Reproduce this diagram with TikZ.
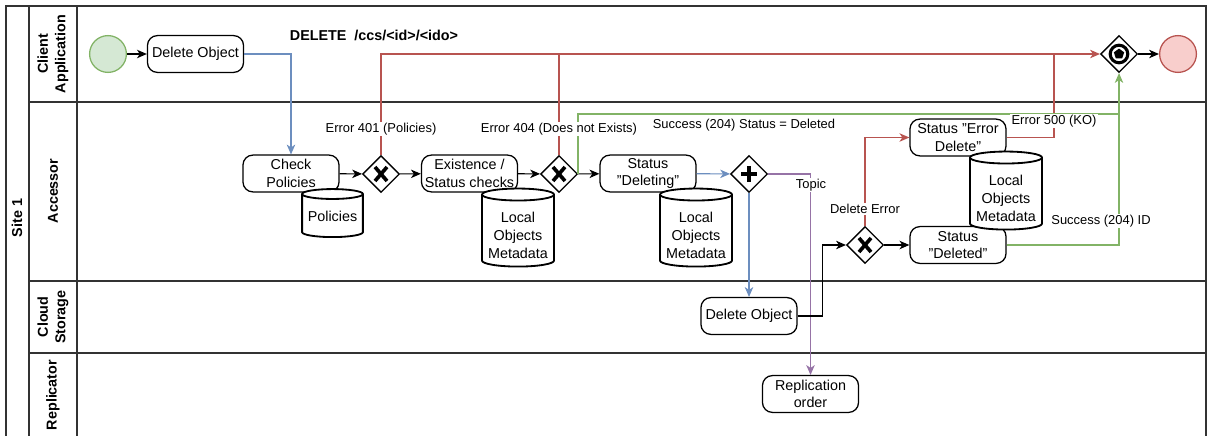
\documentclass[tikz,border=0pt]{standalone}
\usepackage{fontspec}
\setmainfont{Liberation Sans}
\usepackage{tikz}
\usetikzlibrary{arrows.meta,shapes,calc}
\usetikzlibrary{positioning}
\newcommand{\boxfont}{\fontsize{10.2}{12.5}\selectfont}
\newcommand{\labfont}{\fontsize{9.2}{11}\selectfont}
\definecolor{bpblue}{HTML}{6C8EBF}
\definecolor{bpred}{HTML}{B85450}
\definecolor{bpgreen}{HTML}{82B366}
\definecolor{bppurple}{HTML}{9673A6}
\definecolor{okfill}{HTML}{D5E8D4}
\definecolor{kofill}{HTML}{F8CECC}
\definecolor{lanegray}{HTML}{333333}
\tikzstyle{lane}=[draw=lanegray,line width=0.9pt]
\tikzstyle{lanehead}=[rotate=90,align=center,font=\bfseries\boxfont]
\tikzstyle{task}=[draw=black,rounded corners=7pt,line width=0.9pt,fill=white,
                align=center,minimum width=2.4cm,minimum height=0.92cm,inner sep=1pt,font=\boxfont]
\tikzstyle{store}=[draw=black,cylinder,shape border rotate=90,aspect=0.2,line width=1.3pt,
                fill=white,align=center,inner sep=0pt,font=\boxfont]
\tikzstyle{gate}=[draw=black,diamond,line width=0.9pt,fill=white,minimum width=0.92cm,
                minimum height=0.92cm,inner sep=0pt]
\tikzstyle{evt}=[circle,minimum size=0.92cm,inner sep=0pt,line width=0.9pt]
\tikzstyle{flow}=[->,>={Stealth[length=7pt,width=6pt,inset=2pt]},line width=0.8pt]
\tikzstyle{elabel}=[fill=white,inner sep=1pt,font=\labfont]

\begin{document}
\begin{tikzpicture}[x=0.025cm,y=-0.025cm]
\useasboundingbox (0,0) rectangle (1208,435);
% pool and lanes
\draw[lane] (6,440) -- (6,6) -- (1206,6) -- (1206,440);
\draw[lane] (29,6) -- (29,440);
\draw[lane] (77,6) -- (77,440);
\foreach \y in {102,281,353}
\draw[lane] (29,\y) -- (1206,\y);
\node[lanehead] (hsite) at (17,218) {Site 1};
\node[lanehead] (hclient) at (53,54) {Client\\Application};
\node[lanehead] (hacc) at (53,191) {Accessor};
\node[lanehead] (hcloud) at (53,317) {Cloud\\Storage};
\node[lanehead] (hrep) at (53,395) {Replicator};

% events
\node[evt,draw=bpgreen,fill=okfill] (start) at (108,54) {};
\node[evt,draw=bpred,fill=kofill] (stop) at (1178,54) {};
\node[font=\bfseries\boxfont] (req) at (374,35) {DELETE\ \ /ccs/<id>/<ido>};

% tasks
\node[task] (cdel) at (195.5,54) {Delete Object};
\node[task] (chk) at (291,173.5) {Check\\Policies};
\node[task] (exi) at (469.5,173.5) {Existence /\\Status checks};
\node[task] (sdl) at (648,173.5) {Status\\"Deleting"};
\node[task] (sdo) at (749,316) {Delete Object};
\node[task] (rep) at (810.5,394) {Replication\\order};
\node[task] (serr) at (958,137.5) {Status "Error\\Delete"};
\node[task] (sdeld) at (958,245) {Status\\"Deleted"};

% gateways
\node[gate] (gx1) at (381,174) {};
\node[gate] (gx2) at (559,174) {};
\node[gate] (par) at (749,174) {};
\node[gate] (gx3) at (865,245) {};
\node[gate] (egw) at (1119,54) {};

% data stores
\node[store,minimum width=1.52cm,minimum height=1.2cm] (pol) at (332.5,216) {Policies};
\node[store,minimum width=1.8cm,minimum height=1.95cm] (lom1) at (518,231) {\mbox{}\\[1pt]Local\\Objects\\Metadata};
\node[store,minimum width=1.8cm,minimum height=1.95cm] (lom2) at (696,231) {\mbox{}\\[1pt]Local\\Objects\\Metadata};
\node[store,minimum width=1.8cm,minimum height=1.95cm] (lom3) at (1006,194) {\mbox{}\\[1pt]Local\\Objects\\Metadata};

% flows
\coordinate (gturn) at (1119,114);
\coordinate (rjoin) at (1054,54);
\draw[flow] (start) -- (cdel);
\draw[flow,bpblue] (cdel.east) -| (chk.north);
\draw[flow] (chk) -- (gx1);
\draw[flow] (gx1) -- (exi);
\draw[flow] (exi) -- (gx2);
\draw[flow] (gx2) -- (sdl);
\draw[flow,bpblue] (sdl) -- (par);
\draw[flow,bpblue] (par.south) -- (sdo.north);
\draw[flow,bppurple] (par.east) -| (rep.north);
\draw[flow] (sdo.east) -- ++(25,0) |- (gx3.west);
\draw[flow] (gx3) -- (sdeld);
\draw[flow,bpred] (gx3.north) |- (serr.west);
\draw[flow,bpred] (gx1.north) |- (egw.west);
\draw[line width=0.8pt,bpred] (gx2.north) -- (gx2.north |- egw.west);
\draw[line width=0.8pt,bpred] (serr.east) -| (rjoin);
\draw[line width=0.8pt,bpgreen] (gx2.east) |- (gturn);
\draw[flow,bpgreen] (sdeld.east) -| (egw.south);
\draw[flow] (egw) -- (stop);

% flow labels
\node[elabel] (l401) at (381,129) {Error 401 (Policies)};
\node[elabel] (l404) at (559,129) {Error 404 (Does not Exists)};
\node[elabel] (lok) at (744,125) {Success (204) Status = Deleted};
\node[elabel] (ltopic) at (811,185) {Topic};
\node[elabel] (lderr) at (865,209) {Delete Error};
\node[elabel] (l500) at (1054,121) {Error 500 (KO)};
\node[elabel] (lokid) at (1101,221) {Success (204) ID};

% gateway markers
\foreach \g in {gx1,gx2,gx3}{
\draw[line width=2.6pt] ($(\g)+(-6,-7)$) -- ($(\g)+(6,7)$);
\draw[line width=2.6pt] ($(\g)+(-6,7)$) -- ($(\g)+(6,-7)$);
}
\draw[line width=3pt] ($(par)+(-8,0)$) -- ($(par)+(8,0)$);
\draw[line width=3pt] ($(par)+(0,-8)$) -- ($(par)+(0,8)$);
\draw[line width=2.2pt] (egw) circle (0.22cm);
\node[regular polygon,regular polygon sides=5,fill=black,minimum size=0.27cm,inner sep=0pt] (pent) at (egw) {};
\end{tikzpicture}
\end{document}
